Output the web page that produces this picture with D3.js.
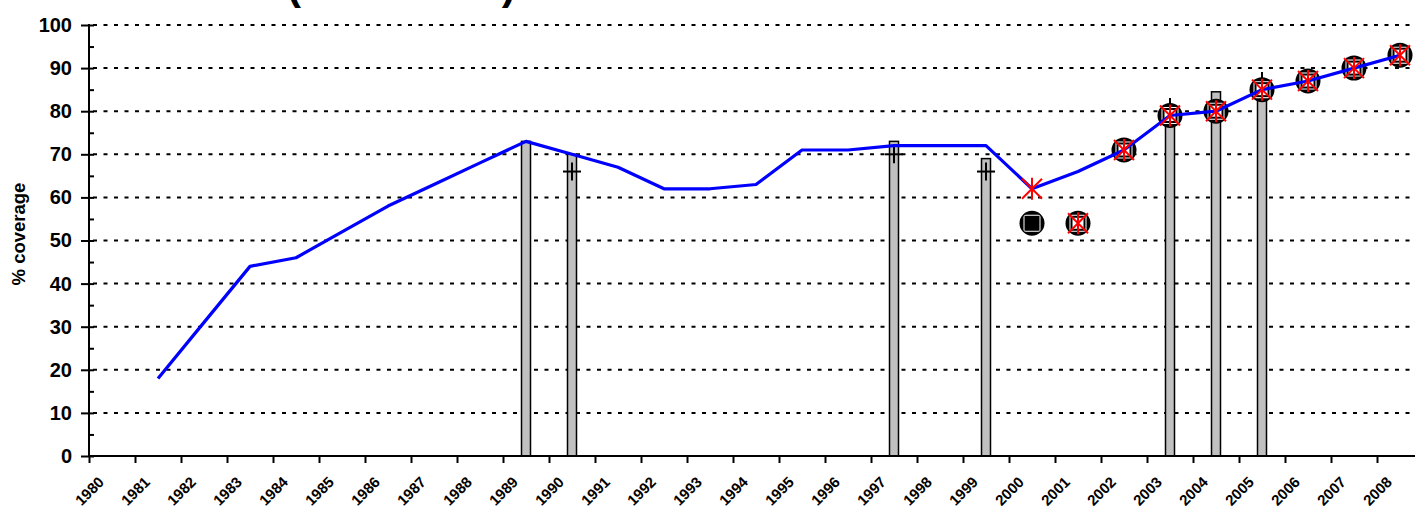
<!DOCTYPE html>
<html>
<head>
<meta charset="utf-8">
<script src="https://cdn.jsdelivr.net/npm/d3@7"></script>
<style>
  html, body { margin: 0; padding: 0; background: #fff; overflow: hidden; }
  svg { display: block; font-family: Arial, "Liberation Sans", sans-serif; }
</style>
</head>
<body>
<svg id="chart" width="1415" height="509"></svg>
<script>
// ---- data ----
const years = ["1980","1981","1982","1983","1984","1985","1986","1987","1988","1989","1990","1991","1992","1993","1994","1995","1996","1997","1998","1999","2000","2001","2002","2003","2004","2005","2006","2007","2008"];
const estimate = [null,18,31,44,46,52,58,63,68,73,70,67,62,62,63,71,71,72,72,72,62,66,71,79,80,85,87,90,93];
const reportedYears = ["2000","2001","2002","2003","2004","2005","2006","2007","2008"];
const reported = [62,54,71,79,80,85,87,90,93];
const officialYears = ["2000","2001","2002","2003","2004","2005","2006","2007","2008"];
const official = [54,54,71,79,80,85,87,90,93];
const otherYears = ["2000"];
const other = [54];
const surveyYears = ["1989","1990","1997","1999","2003","2004","2005"];
const survey = [73,70,73,69,80,84.5,86];
const adjYears = ["1990","1997","1999","2003","2005"];
const adjusted = [66,70,66,81,87];
const yTicks = [0,10,20,30,40,50,60,70,80,90,100];
const yMinor = [5,15,25,35,45,55,65,75,85,95];
const yTitle = "% coverage";
const titleText = "(1980-2008)";

// ---- layout ----
const svg = d3.select("#chart");
const plotLeft = 89, plotTop = 25, plotBottom = 456, step = 46;
const x = d3.scaleBand().domain(years).range([plotLeft, plotLeft + step * years.length]).padding(0);
const xEdge = d3.scaleLinear().domain([0, years.length]).range([plotLeft, plotLeft + step * years.length]);
const y = d3.scaleLinear().domain([0, 100]).range([plotBottom, plotTop]);
const cx = d => x(d) + x.bandwidth() / 2;

// title (mostly above the visible area, as in the reference)
svg.append("text").attr("x", 287).attr("y", -1)
  .attr("font-size", 42).attr("font-weight", "bold").attr("fill", "#000")
  .text(titleText);

// gridlines
svg.append("g").selectAll("line").data(yTicks.filter(v => v > 0)).join("line")
  .attr("x1", plotLeft + 2).attr("x2", 1415)
  .attr("y1", d => y(d)).attr("y2", d => y(d))
  .attr("stroke", "#000").attr("stroke-width", 2)
  .attr("stroke-dasharray", "4,6.5").attr("stroke-dashoffset", -2);

// survey bars
svg.append("g").selectAll("rect").data(surveyYears.map((d, i) => ({yr: d, v: survey[i]}))).join("rect")
  .attr("x", d => cx(d.yr) - 4.5).attr("width", 9)
  .attr("y", d => y(d.v)).attr("height", d => y(0) - y(d.v))
  .attr("fill", "#c0c0c0").attr("stroke", "#000").attr("stroke-width", 1.5);

// adjusted "+" marks
const plusG = svg.append("g").attr("stroke", "#000").attr("stroke-width", 2);
adjYears.forEach((yr, i) => {
  const px = cx(yr), py = y(adjusted[i]);
  plusG.append("line").attr("x1", px - 9).attr("x2", px + 9).attr("y1", py).attr("y2", py);
  plusG.append("line").attr("x1", px).attr("x2", px).attr("y1", py - 9).attr("y2", py + 9);
});

// official markers (circle + square)
const offG = svg.append("g");
officialYears.forEach((yr, i) => {
  const px = cx(yr), py = y(official[i]);
  offG.append("circle").attr("cx", px).attr("cy", py).attr("r", 12.5).attr("fill", "#000");
  offG.append("rect").attr("x", px - 8.5).attr("y", py - 8.5).attr("width", 17).attr("height", 17)
    .attr("rx", 2.5).attr("fill", "#fff");
  offG.append("rect").attr("x", px - 6.5).attr("y", py - 6.5).attr("width", 13).attr("height", 13)
    .attr("fill", "#fff").attr("stroke", "#000").attr("stroke-width", 2);
});
otherYears.forEach((yr, i) => {
  const px = cx(yr), py = y(other[i]);
  offG.append("rect").attr("x", px - 6.5).attr("y", py - 6.5).attr("width", 13).attr("height", 13)
    .attr("fill", "#000");
});

// estimate line
const line = d3.line().defined(d => d.v != null).x(d => cx(d.yr)).y(d => y(d.v));
svg.append("path").datum(years.map((d, i) => ({yr: d, v: estimate[i]})))
  .attr("d", line).attr("fill", "none").attr("stroke", "#0000ff").attr("stroke-width", 3.2)
  .attr("stroke-linejoin", "round");

// reported asterisks
const astG = svg.append("g").attr("stroke", "#ff0000").attr("stroke-width", 2);
reportedYears.forEach((yr, i) => {
  const px = cx(yr), py = y(reported[i]);
  astG.append("line").attr("x1", px - 10).attr("x2", px + 10).attr("y1", py - 10).attr("y2", py + 10);
  astG.append("line").attr("x1", px - 10).attr("x2", px + 10).attr("y1", py + 10).attr("y2", py - 10);
  astG.append("line").attr("x1", px).attr("x2", px).attr("y1", py - 11).attr("y2", py + 11);
});

// y axis: major ticks crossing, minor ticks inside
const yAxL = svg.append("g").attr("transform", `translate(${plotLeft},0)`)
  .call(d3.axisLeft(y).tickValues(yTicks).tickSize(8).tickPadding(9).tickFormat(d3.format("d")));
yAxL.select(".domain").remove();
yAxL.selectAll(".tick line").attr("stroke", "#000").attr("stroke-width", 2);
yAxL.selectAll(".tick text").attr("font-size", 20).attr("font-weight", "bold").attr("fill", "#000")
  .attr("font-family", "Arial, 'Liberation Sans', sans-serif");
const yAxR = svg.append("g").attr("transform", `translate(${plotLeft},0)`)
  .call(d3.axisRight(y).tickValues(yTicks.concat(yMinor)).tickSize(5).tickFormat(""));
yAxR.select(".domain").remove();
yAxR.selectAll(".tick line").attr("stroke", "#000").attr("stroke-width", 2);
svg.append("line").attr("x1", plotLeft).attr("x2", plotLeft).attr("y1", plotTop - 1).attr("y2", plotBottom + 1)
  .attr("stroke", "#000").attr("stroke-width", 2);

// x axis
const xTk = svg.append("g").attr("transform", `translate(0,${plotBottom})`)
  .call(d3.axisBottom(xEdge).tickValues(d3.range(years.length + 1)).tickSize(7).tickFormat(""));
xTk.select(".domain").remove();
xTk.selectAll(".tick line").attr("stroke", "#000").attr("stroke-width", 2);
svg.append("line").attr("x1", plotLeft - 1).attr("x2", 1415).attr("y1", plotBottom).attr("y2", plotBottom)
  .attr("stroke", "#000").attr("stroke-width", 2);
const xLab = svg.append("g").attr("transform", `translate(0,${plotBottom})`)
  .call(d3.axisBottom(x).tickSize(0).tickPadding(0));
xLab.select(".domain").remove();
xLab.selectAll(".tick text")
  .attr("font-size", 15).attr("font-weight", "bold").attr("fill", "#000")
  .attr("font-family", "Arial, 'Liberation Sans', sans-serif")
  .attr("text-anchor", "end").attr("dy", null).attr("y", 0)
  .attr("transform", "translate(-7,27) rotate(-45)");

// y title
svg.append("text").attr("transform", "translate(25,234) rotate(-90)")
  .attr("text-anchor", "middle").attr("font-size", 18.5).attr("font-weight", "bold").attr("fill", "#000")
  .text(yTitle);
</script>
</body>
</html>
